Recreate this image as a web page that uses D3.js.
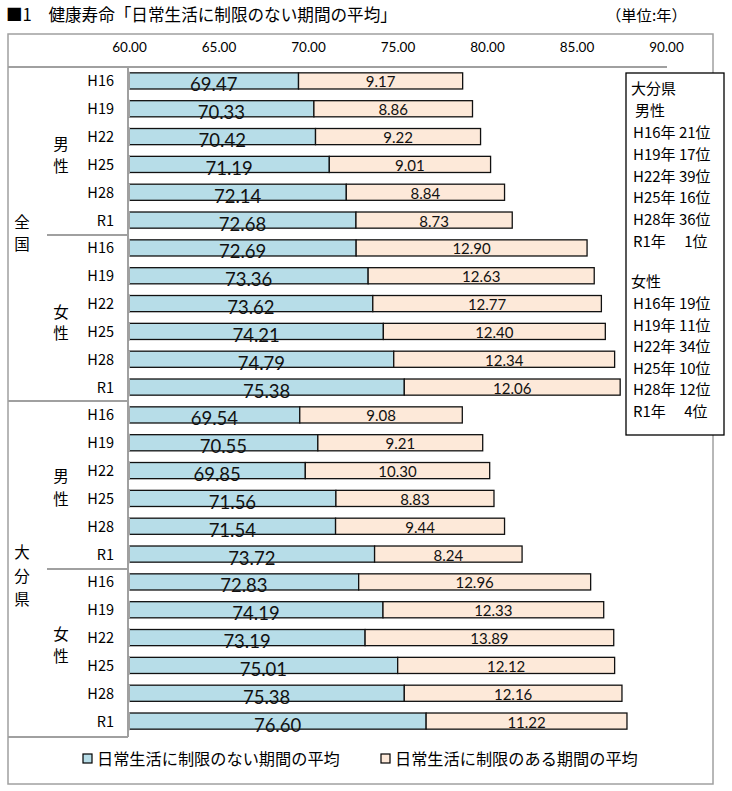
<!DOCTYPE html>
<html><head><meta charset="utf-8">
<script src="https://cdn.jsdelivr.net/npm/d3@7"></script>
<style>
body{margin:0;background:#fff;}
svg{display:block;}
</style></head>
<body><svg id="c" width="732" height="791"></svg>
<script>
const regions = ["全国", "大分県"];
const sexes = ["男性", "女性"];
const years = ["H16", "H19", "H22", "H25", "H28", "R1"];
const healthyNational_M = [69.47, 70.33, 70.42, 71.19, 72.14, 72.68];
const limitedNational_M = [9.17, 8.86, 9.22, 9.01, 8.84, 8.73];
const healthyNational_F = [72.69, 73.36, 73.62, 74.21, 74.79, 75.38];
const limitedNational_F = [12.90, 12.63, 12.77, 12.40, 12.34, 12.06];
const healthyOita_M = [69.54, 70.55, 69.85, 71.56, 71.54, 73.72];
const limitedOita_M = [9.08, 9.21, 10.30, 8.83, 9.44, 8.24];
const healthyOita_F = [72.83, 74.19, 73.19, 75.01, 75.38, 76.60];
const limitedOita_F = [12.96, 12.33, 13.89, 12.12, 12.16, 11.22];
const tickValues = [60, 65, 70, 75, 80, 85, 90];
const seriesNames = ["日常生活に制限のない期間の平均", "日常生活に制限のある期間の平均"];
const rankOitaM = ["H16年 21位", "H19年 17位", "H22年 39位", "H25年 16位", "H28年 36位", "R1年　 1位"];
const rankOitaF = ["H16年 19位", "H19年 11位", "H22年 34位", "H25年 10位", "H28年 12位", "R1年　 4位"];
const titleText = "■1　健康寿命「日常生活に制限のない期間の平均」";
const unitText = "（単位:年）";

const groups = [
  {region: 0, sex: 0, h: healthyNational_M, l: limitedNational_M},
  {region: 0, sex: 1, h: healthyNational_F, l: limitedNational_F},
  {region: 1, sex: 0, h: healthyOita_M, l: limitedOita_M},
  {region: 1, sex: 1, h: healthyOita_F, l: limitedOita_F}
];
const rows = [];
groups.forEach((g, gi) => years.forEach((y, i) => rows.push({key: gi + "-" + y, year: y, gi, h: g.h[i], l: g.l[i]})));

const colors = ["#b7dde8", "#fde9d9"];
const jp = "'Noto Sans CJK JP', sans-serif";
const num = "Lato, 'Open Sans', sans-serif";

const svg = d3.select("#c");
const x = d3.scaleLinear().domain([60, 90]).range([129, 666]);
const y = d3.scaleBand().domain(rows.map(r => r.key)).range([67, 735]).paddingInner(0.42).paddingOuter(0.21);

// title
svg.append("text").attr("x", 6).attr("y", 21).attr("font-family", jp).attr("font-size", 16.6).attr("fill", "#000").text(titleText);
svg.append("text").attr("x", 606).attr("y", 21).attr("font-family", jp).attr("font-size", 15.3).attr("fill", "#000").text(unitText);

// frame
const L = 8, R = 713, T = 34, B = 784;
svg.append("rect").attr("x", L).attr("y", T).attr("width", R - L).attr("height", B - T).attr("fill", "none").attr("stroke", "#a0a0a0").attr("stroke-width", 1.5);

// axis
const ax = svg.append("g").attr("transform", "translate(0,52)")
  .call(d3.axisTop(x).tickValues(tickValues).tickFormat(d3.format(".2f")).tickSize(0).tickPadding(0));
ax.select(".domain").remove();
ax.selectAll("text").attr("font-family", num).attr("font-size", 13.5).attr("fill", "#000");

// category area lines
const gl = svg.append("g").attr("stroke", "#a0a0a0").attr("stroke-width", 2);
gl.append("line").attr("x1", L).attr("x2", 667).attr("y1", 67).attr("y2", 67);
gl.append("line").attr("x1", 128).attr("x2", 128).attr("y1", 67).attr("y2", 737);
gl.append("line").attr("x1", L).attr("x2", 128).attr("y1", 737).attr("y2", 737);
gl.append("line").attr("x1", L).attr("x2", 128).attr("y1", 401).attr("y2", 401);
gl.append("line").attr("x1", 47).attr("x2", 128).attr("y1", 235).attr("y2", 235);
gl.append("line").attr("x1", 47).attr("x2", 128).attr("y1", 569).attr("y2", 569);

// bars
const bh = y.bandwidth();
const bars = svg.append("g");
bars.selectAll("rect.h").data(rows).join("rect").attr("class", "h")
  .attr("x", x(60)).attr("y", d => y(d.key)).attr("width", d => x(d.h) - x(60)).attr("height", bh)
  .attr("fill", colors[0]).attr("stroke", "#111").attr("stroke-width", 1.3);
bars.selectAll("rect.l").data(rows).join("rect").attr("class", "l")
  .attr("x", d => x(d.h)).attr("y", d => y(d.key)).attr("width", d => x(d.h + d.l) - x(d.h)).attr("height", bh)
  .attr("fill", colors[1]).attr("stroke", "#111").attr("stroke-width", 1.3);
bars.selectAll("line.c").data(rows).join("line").attr("class", "c")
  .attr("x1", x(60)).attr("x2", x(60)).attr("y1", d => y(d.key) - 1).attr("y2", d => y(d.key) + bh + 1)
  .attr("stroke", "#a0a0a0").attr("stroke-width", 2);

bars.selectAll("text.h").data(rows).join("text").attr("class", "h")
  .attr("x", d => (x(60) + x(d.h)) / 2).attr("y", d => y(d.key) + bh + 2.5)
  .attr("text-anchor", "middle").attr("font-family", num).attr("font-size", 18.5).attr("fill", "#111")
  .text(d => d3.format(".2f")(d.h));
bars.selectAll("text.l").data(rows).join("text").attr("class", "l")
  .attr("x", d => (x(d.h) + x(d.h + d.l)) / 2).attr("y", d => y(d.key) + bh - 1.5)
  .attr("text-anchor", "middle").attr("font-family", num).attr("font-size", 15).attr("fill", "#111")
  .text(d => d3.format(".2f")(d.l));

// year labels
svg.append("g").selectAll("text").data(rows).join("text")
  .attr("x", 114).attr("y", d => y(d.key) + bh / 2 + 5.5).attr("text-anchor", "end")
  .attr("font-family", jp).attr("font-size", 14.5).attr("fill", "#000").text(d => d.year);

// vertical labels
function vtext(chars, cx, cy, step, size) {
  const n = chars.length;
  chars.split("").forEach((c, i) => {
    svg.append("text").attr("x", cx).attr("y", cy + (i - (n - 1) / 2) * step + size * 0.36)
      .attr("text-anchor", "middle").attr("font-family", jp).attr("font-size", size).attr("fill", "#000").text(c);
  });
}
vtext(sexes[0], 61, 155, 22, 15.5);
vtext(sexes[1], 61, 323, 21, 15.5);
vtext(sexes[0], 61, 488, 23, 15.5);
vtext(sexes[1], 61, 645, 22, 15.5);
vtext(regions[0], 22, 233, 22, 15.5);
vtext(regions[1], 22, 576, 23.5, 15.5);

// rank box
const box = svg.append("g");
box.append("rect").attr("x", 626).attr("y", 73).attr("width", 98).attr("height", 362).attr("fill", "#fff").attr("stroke", "#000").attr("stroke-width", 1.3);
const bt = (t, yy, xx) => box.append("text").attr("x", xx).attr("y", yy).attr("font-family", jp).attr("font-size", 15).attr("fill", "#000").text(t);
bt(regions[1], 94, 631);
bt(sexes[0], 116, 635);
rankOitaM.forEach((t, i) => bt(t, 138 + i * 21.8, 633));
bt(sexes[1], 287, 631);
rankOitaF.forEach((t, i) => bt(t, 309 + i * 21.6, 633));

// legend
const lg = svg.append("g");
const lx = [83, 381];
seriesNames.forEach((s, i) => {
  lg.append("rect").attr("x", lx[i]).attr("y", 754).attr("width", 9).attr("height", 9).attr("fill", colors[i]).attr("stroke", "#000").attr("stroke-width", 1.2);
  lg.append("text").attr("x", lx[i] + 14).attr("y", 765).attr("font-family", jp).attr("font-size", 16.2).attr("fill", "#000").text(s);
});
</script></body></html>
